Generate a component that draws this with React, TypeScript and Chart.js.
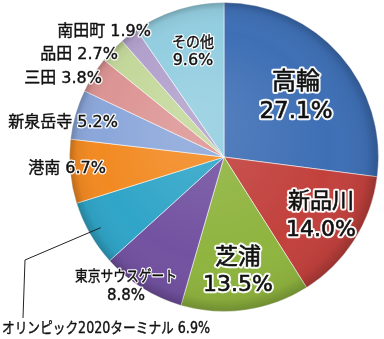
import React, { useEffect, useRef } from "react";
import { Chart, registerables } from "chart.js";

Chart.register(...registerables);

const categories = [
  "高輪",
  "新品川",
  "芝浦",
  "東京サウスゲート",
  "オリンピック2020ターミナル",
  "港南",
  "新泉岳寺",
  "三田",
  "品田",
  "南田町",
  "その他",
];
const shares = [27.1, 14.0, 13.5, 8.8, 6.9, 6.7, 5.2, 3.8, 2.7, 1.9, 9.6];
const sliceColors = [
  "#3e6fb5",
  "#c2413d",
  "#8fb43f",
  "#7352a1",
  "#30a5c8",
  "#f28a22",
  "#8ba7da",
  "#dc9594",
  "#c4d89b",
  "#b2a1cc",
  "#93cee0",
];

type Lbl = {
  lines: string[];
  x: number;
  y: number[];
  size: number[];
  maxW?: (number | undefined)[];
  align: CanvasTextAlign;
};

const FONT = '"DejaVu Sans", "Noto Sans CJK JP", sans-serif';

function pct(i: number) {
  return shares[i].toFixed(1) + "%";
}

const labelSpecs: Lbl[] = [
  { lines: [categories[0], pct(0)], x: 296, y: [83, 112], size: [24, 23], align: "center" },
  { lines: [categories[1], pct(1)], x: 321, y: [202, 230], size: [22, 22], align: "center" },
  { lines: [categories[2], pct(2)], x: 238, y: [258, 285], size: [23, 22], align: "center" },
  { lines: [categories[3], pct(3)], x: 126, y: [277, 296], size: [15, 15], maxW: [102, undefined], align: "center" },
  { lines: [categories[4] + " " + pct(4)], x: 2, y: [329], size: [15], maxW: [208], align: "left" },
  { lines: [categories[5] + " " + pct(5)], x: 106, y: [169], size: [16], align: "right" },
  { lines: [categories[6] + " " + pct(6)], x: 118, y: [123], size: [16], align: "right" },
  { lines: [categories[7] + " " + pct(7)], x: 102, y: [79], size: [16], align: "right" },
  { lines: [categories[8] + " " + pct(8)], x: 118, y: [55], size: [16], align: "right" },
  { lines: [categories[9] + " " + pct(9)], x: 151, y: [32], size: [16], align: "right" },
  { lines: [categories[10], pct(10)], x: 193, y: [43, 61], size: [15, 16], maxW: [42, undefined], align: "center" },
];

const leaderIndex = 4;
const leaderPath = [
  [25, 260],
  [23, 318],
];

const labelPlugin = {
  id: "pieLabels",
  afterDatasetsDraw(chart: any) {
    const ctx: CanvasRenderingContext2D = chart.ctx;
    const meta = chart.getDatasetMeta(0);
    const first = meta.data[0];
    if (!first) return;
    // 3D-like shading
    const { x: cx, y: cy, outerRadius: r } = first.getProps(["x", "y", "outerRadius"], true);
    ctx.save();
    const g = ctx.createRadialGradient(cx - r * 0.2, cy - r * 0.25, r * 0.1, cx, cy, r);
    g.addColorStop(0, "rgba(255,255,255,0.12)");
    g.addColorStop(0.7, "rgba(255,255,255,0)");
    g.addColorStop(0.93, "rgba(0,0,0,0.05)");
    g.addColorStop(1, "rgba(0,0,0,0.22)");
    ctx.beginPath();
    ctx.arc(cx, cy, r, 0, Math.PI * 2);
    ctx.fillStyle = g;
    ctx.fill();
    ctx.restore();

    // leader line
    const arc = meta.data[leaderIndex];
    const p = arc.getProps(["x", "y", "startAngle", "endAngle", "outerRadius"], true);
    const mid = (p.startAngle + p.endAngle) / 2;
    const sx = p.x + Math.cos(mid) * p.outerRadius * 0.92;
    const sy = p.y + Math.sin(mid) * p.outerRadius * 0.92;
    ctx.save();
    ctx.strokeStyle = "#222";
    ctx.lineWidth = 1;
    ctx.beginPath();
    ctx.moveTo(sx, sy);
    leaderPath.forEach(([lx, ly]) => ctx.lineTo(lx, ly));
    ctx.stroke();
    ctx.restore();

    // labels
    ctx.save();
    ctx.textBaseline = "middle";
    ctx.lineJoin = "round";
    labelSpecs.forEach((s) => {
      ctx.textAlign = s.align;
      s.lines.forEach((t, k) => {
        const size = s.size[k];
        const mw = s.maxW ? s.maxW[k] : undefined;
        ctx.font = `${size}px ${FONT}`;
        const draw = (fn: "strokeText" | "fillText") => {
          if (mw !== undefined) ctx[fn](t, s.x, s.y[k], mw);
          else ctx[fn](t, s.x, s.y[k]);
        };
        ctx.strokeStyle = "rgba(255,255,255,0.95)";
        ctx.lineWidth = size > 18 ? 4.5 : 3;
        draw("strokeText");
        ctx.fillStyle = "#111";
        draw("fillText");
        ctx.strokeStyle = "#111";
        ctx.lineWidth = size > 18 ? 0.6 : 0.4;
        draw("strokeText");
      });
    });
    ctx.restore();
  },
};

export default function App() {
  const ref = useRef<HTMLCanvasElement | null>(null);
  useEffect(() => {
    document.body.style.margin = "0";
    const canvas = ref.current;
    if (!canvas) return;
    const chart = new Chart(canvas, {
      type: "pie",
      data: {
        labels: categories,
        datasets: [
          {
            data: shares,
            backgroundColor: sliceColors,
            borderColor: "rgba(255,255,255,0.55)",
            borderWidth: 1,
          },
        ],
      },
      options: {
        responsive: false,
        animation: false,
        layout: { padding: { left: 69, right: 5, top: 2, bottom: 27 } },
        plugins: {
          legend: { display: false },
          tooltip: { enabled: false },
        },
      },
      plugins: [labelPlugin],
    });
    return () => chart.destroy();
  }, []);
  return <canvas ref={ref} width={384} height={339} style={{ display: "block" }} />;
}
